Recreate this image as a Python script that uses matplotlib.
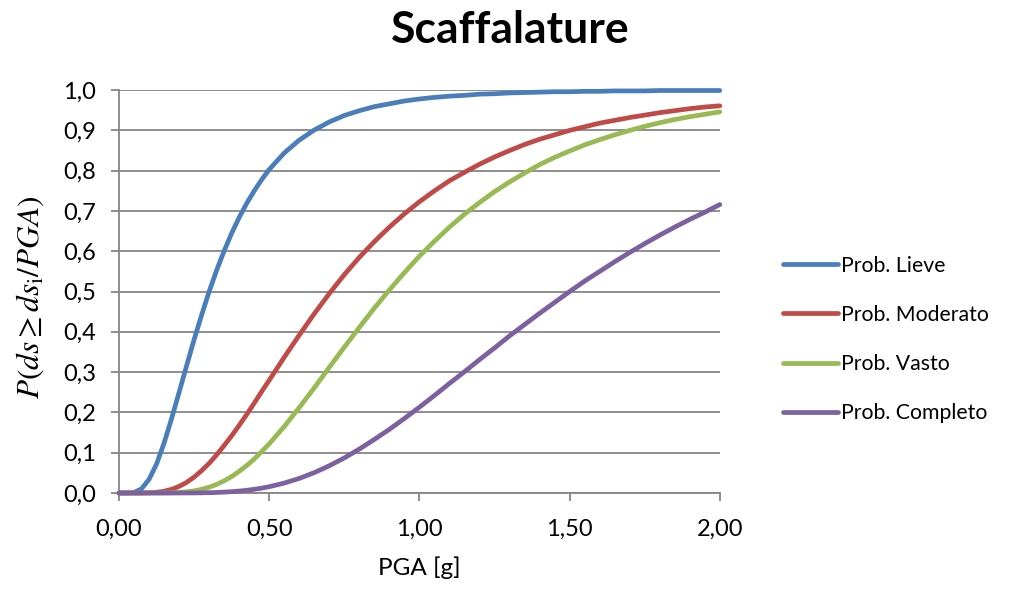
import matplotlib
matplotlib.use("Agg")
import matplotlib.pyplot as plt

# PGA [g] sampling used for every curve
pga = [0.0, 0.025, 0.05, 0.075, 0.1, 0.125, 0.15, 0.175, 0.2, 0.225,
       0.25, 0.275, 0.3, 0.325, 0.35, 0.375, 0.4, 0.425, 0.45, 0.475,
       0.5, 0.55, 0.6, 0.65, 0.7, 0.75, 0.8, 0.85, 0.9, 0.95,
       1.0, 1.05, 1.1, 1.15, 1.2, 1.25, 1.3, 1.35, 1.4, 1.45,
       1.5, 1.55, 1.6, 1.65, 1.7, 1.75, 1.8, 1.85, 1.9, 1.95, 2.0]

p_lieve = [0.0, 0.0, 0.0014, 0.0104, 0.034, 0.072, 0.124, 0.185, 0.250, 0.316,
           0.381, 0.442, 0.500, 0.553, 0.601, 0.645, 0.684, 0.719, 0.750, 0.778,
           0.803, 0.844, 0.876, 0.901, 0.921, 0.937, 0.949, 0.959, 0.966, 0.973,
           0.978, 0.982, 0.985, 0.987, 0.990, 0.991, 0.993, 0.994, 0.995, 0.996,
           0.996, 0.997, 0.997, 0.998, 0.998, 0.998, 0.999, 0.999, 0.999, 0.999, 0.999]

p_moderato = [0.0, 0.0, 0.0, 0.0001, 0.0005, 0.0017, 0.0044, 0.0091, 0.0164, 0.0264,
              0.0395, 0.0554, 0.0738, 0.0948, 0.118, 0.142, 0.168, 0.195, 0.223, 0.252,
              0.280, 0.337, 0.392, 0.445, 0.495, 0.542, 0.585, 0.624, 0.660, 0.693,
              0.723, 0.750, 0.775, 0.796, 0.816, 0.834, 0.850, 0.865, 0.878, 0.889,
              0.900, 0.909, 0.918, 0.925, 0.932, 0.938, 0.944, 0.949, 0.954, 0.958, 0.961]

p_vasto = [0.0, 0.0, 0.0, 0.0, 0.0, 0.0, 0.0002, 0.0006, 0.0014, 0.0029,
           0.0054, 0.0091, 0.0144, 0.0214, 0.0302, 0.0409, 0.0537, 0.0681, 0.0844, 0.103,
           0.122, 0.165, 0.212, 0.261, 0.312, 0.362, 0.411, 0.459, 0.504, 0.547,
           0.588, 0.625, 0.660, 0.692, 0.721, 0.748, 0.772, 0.794, 0.815, 0.833,
           0.849, 0.864, 0.877, 0.889, 0.900, 0.910, 0.919, 0.927, 0.934, 0.940, 0.946]

p_completo = [0.0, 0.0, 0.0, 0.0, 0.0, 0.0, 0.0, 0.0, 0.0, 0.0001,
              0.0002, 0.0004, 0.0008, 0.0013, 0.0022, 0.0033, 0.0048, 0.0067, 0.0091, 0.0121,
              0.0156, 0.0246, 0.0362, 0.0505, 0.0676, 0.0871, 0.109, 0.133, 0.158, 0.185,
              0.213, 0.242, 0.272, 0.301, 0.331, 0.360, 0.390, 0.418, 0.446, 0.473,
              0.500, 0.526, 0.550, 0.574, 0.597, 0.619, 0.640, 0.660, 0.679, 0.697, 0.716]

labels = ["Prob. Lieve", "Prob. Moderato", "Prob. Vasto", "Prob. Completo"]
colors = ["#4a7ebb", "#be4b48", "#98b954", "#7d60a0"]

xticks = [0.0, 0.5, 1.0, 1.5, 2.0]
xticklabels = ["0,00", "0,50", "1,00", "1,50", "2,00"]
yticks = [0.0, 0.1, 0.2, 0.3, 0.4, 0.5, 0.6, 0.7, 0.8, 0.9, 1.0]
yticklabels = ["0,0", "0,1", "0,2", "0,3", "0,4", "0,5", "0,6", "0,7", "0,8", "0,9", "1,0"]

plt.rcParams["font.family"] = ["Lato", "DejaVu Sans"]
plt.rcParams["mathtext.fontset"] = "stix"

fig = plt.figure(figsize=(10.2, 5.89), dpi=100)
ax = fig.add_axes([0.1167, 0.163, 0.589, 0.684])

grid_col = "#868686"
for i, series in enumerate([p_lieve, p_moderato, p_vasto, p_completo]):
    ax.plot(pga, series, color=colors[i], lw=3.4, label=labels[i],
            solid_capstyle="round", clip_on=False, zorder=3)

ax.set_xlim(0, 2.0)
ax.set_ylim(0, 1.0)
ax.set_xticks(xticks)
ax.set_xticklabels(xticklabels)
ax.set_yticks(yticks)
ax.set_yticklabels(yticklabels)
ax.yaxis.grid(True, color=grid_col, lw=1.3)
ax.set_axisbelow(True)
for s in ["top", "right"]:
    ax.spines[s].set_visible(False)
for s in ["left", "bottom"]:
    ax.spines[s].set_color(grid_col)
    ax.spines[s].set_linewidth(1.3)
ax.tick_params(axis="both", direction="out", length=5.5, width=1.3,
               color=grid_col, labelsize=17, labelcolor="black")
ax.tick_params(axis="x", pad=13)
ax.tick_params(axis="y", pad=11)

ax.set_xlabel("PGA [g]", fontsize=17.5)
ax.xaxis.set_label_coords(0.5, -0.158)
ax.set_ylabel(r"$P(ds \geq ds_{\mathrm{i}}/PGA)$", fontsize=22.5)
ax.yaxis.set_label_coords(-0.122, 0.485)
fig.suptitle("Scaffalature", fontsize=32, fontweight="bold", x=0.5, y=0.949, va="center")

ax.legend(loc="center left", bbox_to_anchor=(0.7676, 0.4236), bbox_transform=fig.transFigure,
          frameon=False, fontsize=15.3, handlelength=2.6, handletextpad=0.14,
          labelspacing=1.38, borderaxespad=0, borderpad=0)

fig.savefig("out.png", dpi=100)
